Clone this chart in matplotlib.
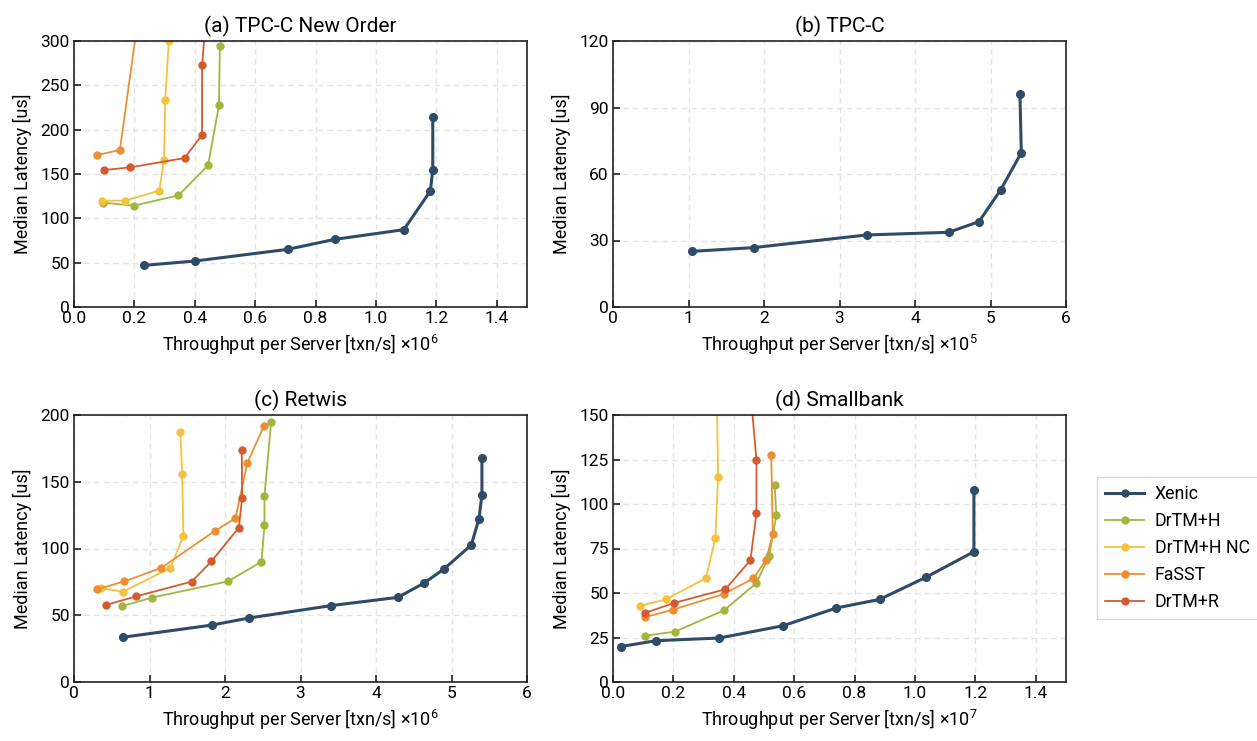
import matplotlib
matplotlib.use("Agg")
import matplotlib.pyplot as plt
from matplotlib.lines import Line2D

plt.rcParams['font.family'] = ['Roboto', 'DejaVu Sans']
plt.rcParams['mathtext.fontset'] = 'custom'
plt.rcParams['mathtext.rm'] = 'Roboto'
plt.rcParams['mathtext.it'] = 'Roboto:italic'

series_names = ["Xenic", "DrTM+H", "DrTM+H NC", "FaSST", "DrTM+R"]
colors = ["#2f4b65", "#a3b53e", "#f4c23c", "#ec8f33", "#d45a30"]

# (a) TPC-C New Order, x in 1e6 txn/s
a_x = {
    "Xenic": [0.233, 0.402, 0.707, 0.864, 1.092, 1.180, 1.188, 1.188],
    "DrTM+H": [0.095, 0.198, 0.346, 0.444, 0.480, 0.483],
    "DrTM+H NC": [0.092, 0.169, 0.282, 0.298, 0.302, 0.314],
    "FaSST": [0.077, 0.152, 0.242],
    "DrTM+R": [0.100, 0.187, 0.366, 0.424, 0.424, 0.443],
}
a_y = {
    "Xenic": [47.0, 51.9, 65.0, 76.3, 87.2, 130.8, 154.9, 213.9],
    "DrTM+H": [117.7, 114.3, 125.9, 159.8, 227.4, 294.0],
    "DrTM+H NC": [119.9, 119.9, 131.2, 165.4, 233.8, 300.0],
    "FaSST": [171.4, 177.1, 400.0],
    "DrTM+R": [154.5, 157.5, 168.0, 194.0, 272.9, 350.0],
}

# (b) TPC-C, x in 1e5 txn/s
b_x = {"Xenic": [1.047, 1.865, 3.362, 4.445, 4.847, 5.134, 5.408, 5.390]}
b_y = {"Xenic": [25.1, 26.8, 32.5, 33.7, 38.5, 52.8, 69.6, 96.1]}

# (c) Retwis, x in 1e6 txn/s
c_x = {
    "Xenic": [0.645, 1.834, 2.315, 3.402, 4.290, 4.630, 4.895, 5.262, 5.364, 5.403, 5.403],
    "DrTM+H": [0.636, 1.034, 2.041, 2.483, 2.523, 2.523, 2.611],
    "DrTM+H NC": [0.362, 0.649, 1.277, 1.449, 1.432, 1.409],
    "FaSST": [0.309, 0.667, 1.153, 1.865, 2.138, 2.297, 2.518],
    "DrTM+R": [0.424, 0.826, 1.560, 1.820, 2.183, 2.227, 2.222],
}
c_y = {
    "Xenic": [33.5, 42.7, 47.9, 57.2, 63.4, 73.9, 84.4, 102.6, 122.3, 140.3, 168.0],
    "DrTM+H": [56.9, 63.2, 75.4, 90.1, 117.4, 139.6, 194.5],
    "DrTM+H NC": [70.2, 67.7, 85.4, 109.4, 156.1, 187.5],
    "FaSST": [69.4, 75.4, 85.4, 113.1, 122.6, 164.3, 192.0],
    "DrTM+R": [57.7, 64.2, 75.2, 90.4, 115.6, 137.8, 174.0],
}

# (d) Smallbank, x in 1e7 txn/s
d_x = {
    "Xenic": [0.025, 0.143, 0.352, 0.563, 0.740, 0.883, 1.038, 1.195, 1.195],
    "DrTM+H": [0.107, 0.205, 0.368, 0.475, 0.517, 0.541, 0.535],
    "DrTM+H NC": [0.091, 0.176, 0.308, 0.339, 0.348, 0.342],
    "FaSST": [0.107, 0.198, 0.366, 0.465, 0.507, 0.529, 0.524],
    "DrTM+R": [0.106, 0.202, 0.372, 0.455, 0.475, 0.475, 0.449],
}
d_y = {
    "Xenic": [19.9, 23.2, 24.7, 31.6, 41.6, 46.4, 59.0, 73.2, 107.7],
    "DrTM+H": [26.0, 28.3, 40.3, 55.6, 71.0, 93.6, 110.9],
    "DrTM+H NC": [42.9, 46.4, 58.4, 80.9, 115.4, 180.0],
    "FaSST": [36.5, 40.6, 49.4, 58.2, 68.7, 83.0, 127.3],
    "DrTM+R": [38.8, 44.4, 52.1, 68.4, 94.8, 124.9, 175.0],
}

panels = [
    ("(a) TPC-C New Order", a_x, a_y, (0, 1.5), [0.0, 0.2, 0.4, 0.6, 0.8, 1.0, 1.2, 1.4],
     ["0.0", "0.2", "0.4", "0.6", "0.8", "1.0", "1.2", "1.4"], (0, 300), [0, 50, 100, 150, 200, 250, 300], 6),
    ("(b) TPC-C", b_x, b_y, (0, 6), [0, 1, 2, 3, 4, 5, 6],
     ["0", "1", "2", "3", "4", "5", "6"], (0, 120), [0, 30, 60, 90, 120], 5),
    ("(c) Retwis", c_x, c_y, (0, 6), [0, 1, 2, 3, 4, 5, 6],
     ["0", "1", "2", "3", "4", "5", "6"], (0, 200), [0, 50, 100, 150, 200], 6),
    ("(d) Smallbank", d_x, d_y, (0, 1.5), [0.0, 0.2, 0.4, 0.6, 0.8, 1.0, 1.2, 1.4],
     ["0.0", "0.2", "0.4", "0.6", "0.8", "1.0", "1.2", "1.4"], (0, 150), [0, 25, 50, 75, 100, 125, 150], 7),
]

W, H = 1257, 741
fig = plt.figure(figsize=(W / 100, H / 100), dpi=100)
boxes = [(74, 41, 527, 307), (613, 41, 1066, 307), (74, 415, 527, 682), (613, 415, 1066, 682)]

for (title, xs, ys, xlim, xt, xtl, ylim, yt, exp), (x0, y0, x1, y1) in zip(panels, boxes):
    ax = fig.add_axes([x0 / W, 1 - y1 / H, (x1 - x0) / W, (y1 - y0) / H])
    for name, col in zip(series_names, colors):
        if name not in xs:
            continue
        lw = 2.2 if name == "Xenic" else 1.3
        ms = 5.5 if name == "Xenic" else 5.0
        ax.plot(xs[name], ys[name], color=col, lw=lw, marker='o', ms=ms,
                zorder=3 if name == "Xenic" else 2, clip_on=True)
    ax.set_xlim(*xlim)
    ax.set_ylim(*ylim)
    ax.set_xticks(xt)
    ax.set_xticklabels(xtl)
    ax.set_yticks(yt)
    ax.grid(True, color='#e3e3e3', linestyle=(0, (4, 3)), linewidth=1.0)
    ax.set_axisbelow(True)
    ax.tick_params(direction='in', length=5, width=1.2, labelsize=12.5, color='#222222',
                   top=False, right=False, pad=3)
    for s in ax.spines.values():
        s.set_linewidth(1.2)
        s.set_color('#222222')
    ax.set_title(title, fontsize=15, pad=6)
    ax.set_ylabel("Median Latency [us]", fontsize=13, labelpad=6)
    ax.set_xlabel("Throughput per Server [txn/s] \u00d710$^{%d}$" % exp, fontsize=13, labelpad=5)

handles = [Line2D([0], [0], color=c, lw=(2.2 if n == "Xenic" else 1.3), marker='o', ms=5)
           for n, c in zip(series_names, colors)]
fig.legend(handles, series_names, loc='center left', bbox_to_anchor=(1097 / W, 1 - 548 / H),
           borderaxespad=0, frameon=True, fancybox=False, edgecolor='#cccccc', fontsize=12.8,
           handlelength=2.2, borderpad=0.45, labelspacing=0.5, handletextpad=0.6)

fig.savefig("out.png", dpi=100)
